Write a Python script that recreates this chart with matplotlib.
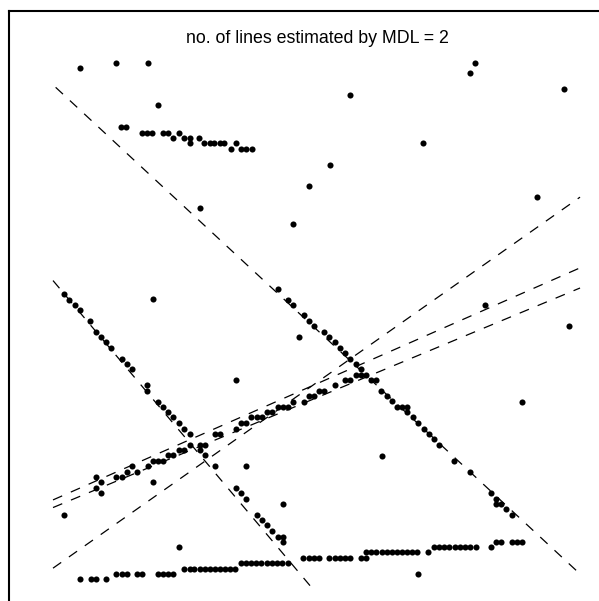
import matplotlib
matplotlib.use("Agg")
import matplotlib.pyplot as plt
import numpy as np

# points (grid units, roughly 0..100)
noise_x = [5.1, 12.0, 18.0, 20.0, 80.1, 79.1, 96.9, 56.4, 70.2, 52.5, 48.6, 91.9, 27.8, 45.6,
           18.9, 82.0, 97.9, 46.6, 34.7, 89.0, 36.6, 62.4, 18.9, 2.1, 43.6, 23.9, 69.3]
noise_y = [98.0, 99.0, 99.0, 90.9, 99.0, 97.0, 94.0, 92.9, 83.7, 79.6, 75.6, 73.5, 71.4, 68.4,
           54.1, 53.1, 49.0, 47.0, 38.8, 34.7, 22.4, 24.4, 19.4, 13.2, 15.3, 7.1, 2.0]

upper_x = [12.9, 13.9, 16.8, 17.8, 18.7, 20.9, 21.9, 23.9, 22.8, 24.9, 25.9, 27.7, 25.9,
           28.7, 29.7, 30.6, 31.6, 32.5, 34.7, 33.7, 35.7, 36.6, 37.7]
upper_y = [86.8, 86.8, 85.7, 85.7, 85.7, 85.7, 85.7, 85.7, 84.8, 84.8, 84.8, 84.8, 83.7,
           83.7, 83.7, 83.7, 83.7, 83.7, 83.7, 82.7, 82.7, 82.7, 82.7]

left_diag_x = [2.1, 3.1, 4.1, 5.1, 7.0, 8.1, 9.1, 10.1, 11.0, 13.0, 14.0, 15.0, 17.9, 17.9,
               19.9, 20.9, 21.8, 22.8, 23.9, 24.8, 25.9, 27.8, 28.8, 30.7, 34.7, 35.7, 36.6,
               38.7, 39.6, 40.6, 41.6, 42.6, 43.6, 43.6]
left_diag_y = [55.1, 54.0, 53.0, 52.0, 50.0, 48.0, 47.0, 46.0, 44.9, 42.8, 41.8, 40.8, 37.8, 36.8,
               34.7, 33.7, 32.7, 31.7, 30.6, 29.6, 28.6, 25.5, 24.5, 22.5, 18.3, 17.3, 16.3,
               13.2, 12.2, 11.2, 10.2, 9.1, 9.1, 8.1]

right_diag_x = [42.6, 44.6, 45.5, 47.6, 48.6, 49.5, 51.5, 52.4, 53.5, 54.5, 55.4, 56.4, 57.4,
                58.4, 60.3, 61.3, 62.3, 63.3, 64.3, 65.3, 66.3, 67.2, 67.2, 68.3, 69.3, 70.3,
                71.3, 72.2, 73.2, 76.1, 79.1, 83.1, 84.1, 84.1, 85.0, 86.0, 87.0]
right_diag_y = [56.1, 54.0, 53.1, 51.1, 50.0, 49.0, 48.0, 47.0, 46.0, 44.9, 43.9, 42.8, 41.8,
                40.8, 38.8, 38.8, 36.8, 35.8, 34.8, 33.7, 33.7, 33.7, 32.7, 31.7, 30.6, 29.6,
                28.6, 27.6, 26.5, 23.4, 21.4, 17.3, 16.3, 15.3, 15.3, 14.3, 13.2]

rising_x = [8.1, 9.1, 8.1, 9.1, 12.0, 13.0, 14.0, 15.9, 15.0, 18.0, 18.9, 19.9, 20.9, 21.9,
            22.8, 23.9, 24.9, 25.9, 27.8, 28.8, 30.7, 31.7, 34.7, 35.7, 36.6, 37.6, 38.7,
            39.6, 40.6, 41.6, 42.6, 43.6, 44.6, 45.6, 47.6, 48.6, 49.5, 50.5, 51.5, 53.5,
            55.4, 56.4, 57.4, 58.4, 59.3]
rising_y = [20.4, 19.4, 18.4, 17.4, 20.4, 20.4, 21.4, 21.4, 22.5, 22.5, 23.5, 23.5, 23.5, 24.5,
            24.5, 25.5, 25.5, 26.5, 26.5, 26.5, 28.6, 28.6, 29.6, 30.7, 30.7, 31.7, 31.7,
            31.7, 32.7, 32.7, 33.7, 33.7, 33.7, 34.7, 34.7, 35.8, 35.8, 36.8, 36.8, 37.8,
            38.8, 38.8, 39.8, 39.8, 39.8]

bottom_x = [5.1, 7.2, 8.1, 10.1,
            12.0, 13.0, 14.0, 15.9, 16.9, 19.9, 20.9, 21.9, 22.8,
            24.9, 25.9, 26.8, 27.8, 28.8, 29.8, 30.7, 31.7, 32.6, 33.6, 34.6,
            35.6, 36.6, 37.6, 38.6, 39.5, 40.6, 41.5, 42.5, 43.5, 44.5,
            47.5, 48.5, 49.5, 50.5, 52.4, 53.5, 54.5, 55.4, 56.4, 58.4, 59.4,
            59.4, 60.3, 61.3, 62.4, 63.4, 64.3, 65.3, 66.2, 67.2, 68.1, 69.1, 71.2,
            72.2, 73.2, 74.2, 75.2, 76.2, 77.2, 78.2, 79.1, 80.3, 83.1,
            84.1, 85.0, 87.0, 88.0, 89.0]
bottom_y = [1.0] * 4 + [2.0] * 9 + [3.0] * 11 + [4.0] * 10 + [5.1] * 11 + [6.1] * 12 + \
           [7.2] * 10 + [8.1] * 5

# candidate lines: intercept, slope, x range
line_a = [94.8, 14.6, 16.05, 3.1, 57.67]
line_b = [-0.928, 0.4166, 0.4403, 0.704, -1.187]
line_x0 = [0.5, 0, 0, 0, 0]
line_x1 = [100, 100, 100, 100, 49.4]

plt.rcParams['lines.scale_dashes'] = False
fig = plt.figure(figsize=(5.99, 6.01), dpi=100)
ax = fig.add_axes([9 / 599, 0, 590 / 599, 590 / 601])

for a, b, x0, x1 in zip(line_a, line_b, line_x0, line_x1):
    xs = np.array([x0, x1])
    ax.plot(xs, a + b * xs, color='black', lw=0.9, dashes=(7.2, 6.8))

for xs, ys in [(noise_x, noise_y), (upper_x, upper_y), (left_diag_x, left_diag_y),
               (right_diag_x, right_diag_y), (rising_x, rising_y), (bottom_x, bottom_y)]:
    ax.plot(xs, ys, 'o', color='black', ms=4.4, mec='none')

ax.text(50.2, 102.75, 'no. of lines estimated by MDL = 2', ha='center', va='baseline',
        fontsize=12.8, family='Liberation Sans')

ax.set_xlim(-8.35, 103.6)
ax.set_ylim(-3.13, 108.82)
ax.set_xticks([])
ax.set_yticks([])
ax.spines['right'].set_visible(False)
ax.spines['bottom'].set_visible(False)
ax.spines['left'].set_linewidth(1.5)
ax.spines['top'].set_linewidth(1.5)

fig.savefig('out.png', dpi=100)
